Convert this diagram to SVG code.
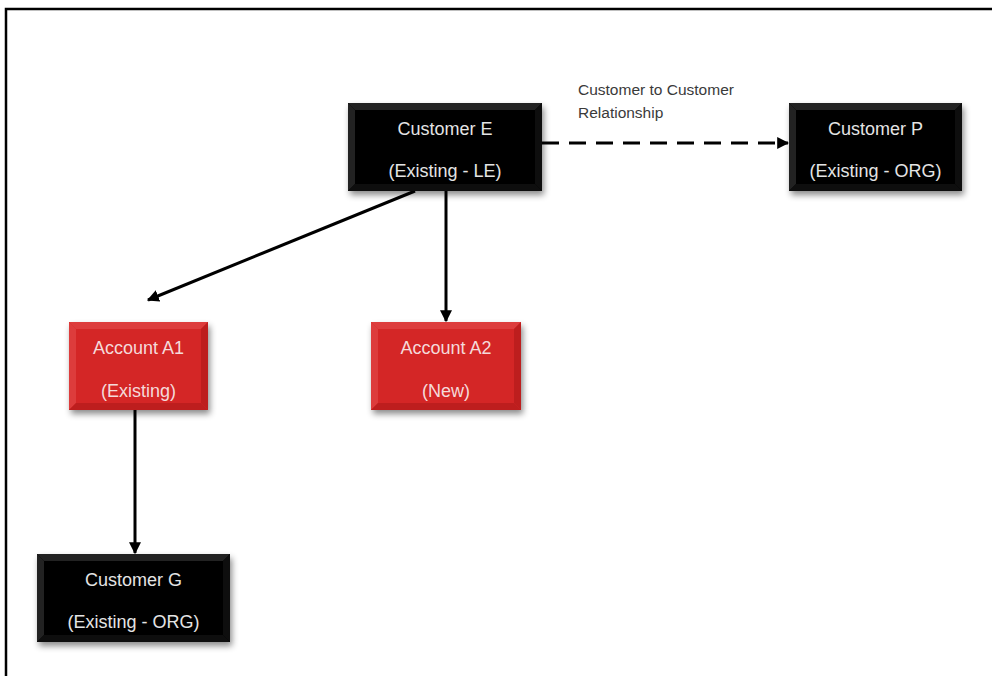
<svg xmlns="http://www.w3.org/2000/svg" width="992" height="676" viewBox="0 0 992 676">
<style>
  .lbl{font-family:"Liberation Sans",Arial,sans-serif;font-size:18px;text-anchor:middle}
  .dk .base{fill:#000}
  .dk .lt{fill:#222}
  .dk .dr{fill:#0e0e0e}
  .dk text{fill:#e4e4e4}
  .rd .base{fill:#d42626}
  .rd .lt{fill:#dd3c3c}
  .rd .dr{fill:#bd1e1e}
  .rd text{fill:#f4dada}
  .conn{stroke:#000;stroke-width:3;fill:none}
  .note{font-family:"Liberation Sans",Arial,sans-serif;font-size:15.5px;fill:#3a3a3a}
</style>
<defs>
  <filter id="sh" x="-10%" y="-10%" width="125%" height="140%">
    <feDropShadow dx="2" dy="4" stdDeviation="3" flood-color="#000" flood-opacity="0.45"/>
  </filter>
  <marker id="ah" viewBox="0 0 10 10" refX="9" refY="5" markerWidth="4" markerHeight="4" orient="auto" markerUnits="strokeWidth">
    <path d="M0,0 L10,5 L0,10 z" fill="#000"/>
  </marker>
</defs>
<rect width="992" height="676" fill="#fff"/>
<path d="M6,676 V9 H992" fill="none" stroke="#000" stroke-width="2.5"/>

<g id="connectors">
  <line class="conn" x1="542" y1="143" x2="788" y2="143" stroke-dasharray="17,10" marker-end="url(#ah)"/>
  <line class="conn" x1="415" y1="191" x2="148" y2="300" marker-end="url(#ah)"/>
  <line class="conn" x1="446" y1="191" x2="446" y2="321" marker-end="url(#ah)"/>
  <line class="conn" x1="135" y1="410" x2="135" y2="553" marker-end="url(#ah)"/>
</g>
<text class="note" x="578" y="95">Customer to Customer</text>
<text class="note" x="578" y="118">Relationship</text>

<g id="customerE" class="dk">
  <rect class="base" x="348" y="103" width="194" height="88" filter="url(#sh)"/>
  <polygon class="lt" points="348,103 542,103 535,110 355,110"/>
  <polygon class="lt" points="348,103 355,110 355,184 348,191"/>
  <polygon class="dr" points="542,103 542,191 535,184 535,110"/>
  <polygon class="dr" points="348,191 355,184 535,184 542,191"/>
  <text class="lbl" x="445" y="135">Customer E</text>
  <text class="lbl" x="445" y="177">(Existing - LE)</text>
</g>

<g id="customerP" class="dk">
  <rect class="base" x="789" y="103" width="173" height="88" filter="url(#sh)"/>
  <polygon class="lt" points="789,103 962,103 955,110 796,110"/>
  <polygon class="lt" points="789,103 796,110 796,184 789,191"/>
  <polygon class="dr" points="962,103 962,191 955,184 955,110"/>
  <polygon class="dr" points="789,191 796,184 955,184 962,191"/>
  <text class="lbl" x="875.5" y="135">Customer P</text>
  <text class="lbl" x="875.5" y="177">(Existing - ORG)</text>
</g>

<g id="accountA1" class="rd">
  <rect class="base" x="69" y="322" width="139" height="88" filter="url(#sh)"/>
  <polygon class="lt" points="69,322 208,322 201,329 76,329"/>
  <polygon class="lt" points="69,322 76,329 76,403 69,410"/>
  <polygon class="dr" points="208,322 208,410 201,403 201,329"/>
  <polygon class="dr" points="69,410 76,403 201,403 208,410"/>
  <text class="lbl" x="138.5" y="354">Account A1</text>
  <text class="lbl" x="138.5" y="397">(Existing)</text>
</g>

<g id="accountA2" class="rd">
  <rect class="base" x="371" y="322" width="150" height="88" filter="url(#sh)"/>
  <polygon class="lt" points="371,322 521,322 514,329 378,329"/>
  <polygon class="lt" points="371,322 378,329 378,403 371,410"/>
  <polygon class="dr" points="521,322 521,410 514,403 514,329"/>
  <polygon class="dr" points="371,410 378,403 514,403 521,410"/>
  <text class="lbl" x="446" y="354">Account A2</text>
  <text class="lbl" x="446" y="397">(New)</text>
</g>

<g id="customerG" class="dk">
  <rect class="base" x="37" y="554" width="193" height="88" filter="url(#sh)"/>
  <polygon class="lt" points="37,554 230,554 223,561 44,561"/>
  <polygon class="lt" points="37,554 44,561 44,635 37,642"/>
  <polygon class="dr" points="230,554 230,642 223,635 223,561"/>
  <polygon class="dr" points="37,642 44,635 223,635 230,642"/>
  <text class="lbl" x="133.5" y="586">Customer G</text>
  <text class="lbl" x="133.5" y="628">(Existing - ORG)</text>
</g>
</svg>
